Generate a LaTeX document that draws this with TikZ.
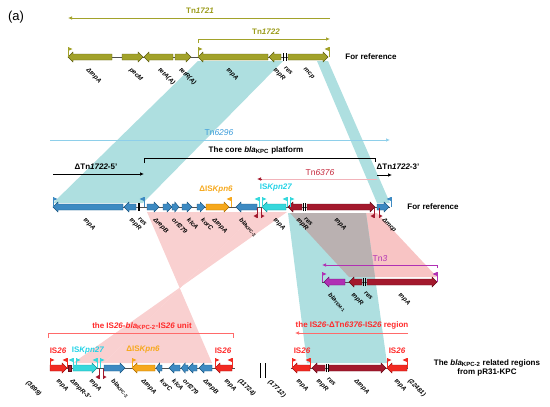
\documentclass[tikz,border=0pt]{standalone}
\usepackage{fontspec}
\setmainfont{Liberation Sans}
\usetikzlibrary{arrows.meta}
\definecolor{cOlv}{HTML}{A2A22A}
\definecolor{cOlvD}{HTML}{5C5C12}
\definecolor{cOlvT}{HTML}{9C9C1C}
\definecolor{cBlu}{HTML}{3D8AC2}
\definecolor{cBluD}{HTML}{1B557F}
\definecolor{cOra}{HTML}{F6A81C}
\definecolor{cOraD}{HTML}{A86A00}
\definecolor{cCya}{HTML}{36D8DC}
\definecolor{cCyaD}{HTML}{169496}
\definecolor{cCyaT}{HTML}{22D2E6}
\definecolor{cDrd}{HTML}{A3192D}
\definecolor{cDrdD}{HTML}{650C18}
\definecolor{cRed}{HTML}{F22A22}
\definecolor{cRedD}{HTML}{A01010}
\definecolor{cRedT}{HTML}{FF2A2A}
\definecolor{cMag}{HTML}{B030B4}
\definecolor{cMagD}{HTML}{6E1072}
\definecolor{cTsix}{HTML}{8ECFEA}
\definecolor{cTsixT}{HTML}{3C9CDA}
\definecolor{cTsev}{HTML}{F2B3BA}
\definecolor{cTsevT}{HTML}{C4263A}
\definecolor{cShC}{HTML}{AEDFE0}
\definecolor{cShP}{HTML}{F8C4C4}
\definecolor{cShG}{HTML}{BAB1B1}
\definecolor{cBack}{HTML}{505050}
\newcommand{\geneR}[4]{%
  \pgfmathsetmacro{\ghl}{min(5,0.6*(#2-#1))}%
  \filldraw[fill=c#4,draw=c#4D,line width=0.4pt] (#1,#3-3) -- ({#2-\ghl},#3-3) -- ({#2-\ghl},#3-5) -- (#2,#3) -- ({#2-\ghl},#3+5) -- ({#2-\ghl},#3+3) -- (#1,#3+3) -- cycle;}
\newcommand{\geneL}[4]{%
  \pgfmathsetmacro{\ghl}{min(5,0.6*(#2-#1))}%
  \filldraw[fill=c#4,draw=c#4D,line width=0.4pt] (#2,#3-3) -- ({#1+\ghl},#3-3) -- ({#1+\ghl},#3-5) -- (#1,#3) -- ({#1+\ghl},#3+5) -- ({#1+\ghl},#3+3) -- (#2,#3+3) -- cycle;}
\newcommand{\flagR}[3]{\draw[#3,line width=0.5pt] (#1,#2) -- (#1,#2-10); \fill[#3] (#1,#2-10) -- (#1+4.5,#2-8) -- (#1,#2-6) -- cycle;}
\newcommand{\flagL}[3]{\draw[#3,line width=0.5pt] (#1,#2) -- (#1,#2-10); \fill[#3] (#1,#2-10) -- (#1-4.5,#2-8) -- (#1,#2-6) -- cycle;}
\newcommand{\dmarkL}[2]{\draw[cDrd,line width=0.5pt] (#1,#2) -- (#1,#2+10); \fill[cDrd] (#1,#2+10) -- (#1-3.5,#2+8) -- (#1,#2+6) -- cycle;}
\newcommand{\dmarkR}[2]{\draw[cDrd,line width=0.5pt] (#1,#2) -- (#1,#2+10); \fill[cDrd] (#1,#2+10) -- (#1+3.5,#2+8) -- (#1,#2+6) -- cycle;}
\newcommand{\resbar}[2]{\draw[black,line width=0.8pt] (#1,#2-4) -- (#1,#2+4);}
\newcommand{\kpcsub}[1]{\textit{bla}\textsubscript{\textup{#1}}}
\tikzset{
  glab/.style={rotate=-45, anchor=west, inner sep=0pt, font=\fontsize{6.3}{7}\selectfont\bfseries\itshape},
  lab/.style={inner sep=0pt, font=\fontsize{8}{9.5}\selectfont\bfseries},
  spanline/.style={line width=0.7pt},
  bone/.style={cBack, line width=0.6pt},
  tip/.style={-{Latex[length=4pt,width=3.5pt]}}
}
\begin{document}
\begin{tikzpicture}[x=1pt,y=-1pt]
\useasboundingbox (0,0) rectangle (550,407);
% ---------- shaded homology regions
\fill[cShC] (198,61) -- (283,61) -- (143,203) -- (53,203) -- cycle;
\fill[cShC] (317,61) -- (328,61) -- (390,203) -- (377,203) -- cycle;
\fill[cShP, fill opacity=0.8] (147,212) -- (257,212) -- (104,363) -- (212,363) -- cycle;
\fill[cShP, fill opacity=0.8] (257,212) -- (287,212) -- (73,363) -- (104,363) -- cycle;
\fill[cShP] (290,213) -- (377,213) -- (437,277) -- (349,277) -- cycle;
\fill[cShC] (288,213) -- (366,213) -- (387,363) -- (307,363) -- cycle;
\fill[cShG] (290,213) -- (366,213) -- (375,277) -- (349,277) -- cycle;
% ---------- (a)
\node[inner sep=0pt, font=\fontsize{13}{14}\selectfont] (pa) at (16,17) {(a)};
% ---------- row 1: Tn1721
\draw[spanline, cOlv, tip] (330,18) -- (68,18);
\node[lab, text=cOlvT] (tA) at (200,11) {Tn\textit{1721}};
\draw[spanline, cOlv, tip] (198,43) -- (198,39) -- (330,39);
\node[lab, text=cOlvT] (tB) at (266,32) {Tn\textit{1722}};
\draw[bone] (68,57) -- (328,57);
\geneL{68}{112}{57}{Olv}
\geneR{122}{143}{57}{Olv}
\geneL{144}{173}{57}{Olv}
\geneR{175}{191}{57}{Olv}
\geneL{198}{268}{57}{Olv}
\geneL{269}{281}{57}{Olv}
\resbar{283}{57}\resbar{286}{57}
\geneR{288}{328}{57}{Olv}
\flagR{68}{57}{cOlv}\flagR{198}{57}{cOlv}\flagL{329}{57}{cOlv}
\node[glab] (a1) at (87,69) {ΔtnpA};
\node[glab] (a2) at (130,69) {pecM};
\node[glab] (a3) at (159,69) {tetA(A)};
\node[glab] (a4) at (180,69) {tetR(A)};
\node[glab] (a5) at (227,69) {tnpA};
\node[glab] (a6) at (274,69) {tnpR};
\node[glab] (a7) at (285,67) {res};
\node[glab] (a8) at (304,69) {mcp};
\node[lab] (fr1) at (371,57) {For reference};
% ---------- row 2 span lines
\draw[spanline, cTsix, tip] (50,140) -- (390,140);
\node[inner sep=0pt, font=\fontsize{8.5}{9.5}\selectfont, text=cTsixT] (tC) at (219,133) {Tn\textit{6296}};
\draw[spanline, black] (144,163) -- (144,158) -- (375,158) -- (375,162);
\node[lab] (core) at (256,150) {The core \kpcsub{KPC} platform};
\node[lab] (d5) at (96,167) {ΔTn\textit{1722}-5'};
\draw[spanline, black, tip] (53,174) -- (144,174);
\node[lab] (d3) at (398,167) {ΔTn\textit{1722}-3'};
\draw[spanline, black, tip] (377,175) -- (392,175);
\draw[spanline, cTsev] (260,179) -- (377,179);
\draw[spanline, cDrd, tip] (262,179) -- (257,179);
\node[inner sep=0pt, font=\fontsize{8.5}{9.5}\selectfont, text=cTsevT] (tD) at (320,173) {Tn\textit{6376}};
\node[lab, text=cOra] (k6) at (216,190) {ΔIS\textit{Kpn6}};
\node[lab, text=cCyaT] (k27) at (276,188) {IS\textit{Kpn27}};
% ---------- row 2 genes
\draw[bone] (53,207) -- (390,207);
\geneL{53}{123}{207}{Blu}
\geneL{124}{136}{207}{Blu}
\draw[black,line width=1.4pt] (139,203) -- (139,211);
\geneR{147}{159}{207}{Blu}
\geneR{163}{172}{207}{Blu}
\geneR{172}{179}{207}{Blu}
\geneR{182}{192}{207}{Blu}
\geneR{197}{205}{207}{Blu}
\geneR{206}{229}{207}{Ora}
\geneL{236}{257}{207}{Blu}
\geneL{262}{286}{207}{Cya}
\geneL{288}{302}{207}{Drd}
\resbar{303.5}{207}\resbar{305.5}{207}
\geneR{307}{375}{207}{Drd}
\geneR{377}{389}{207}{Blu}
\flagR{53}{207}{cBlu}\flagL{144}{207}{cBlu}\flagL{231}{207}{cOra}
\flagL{259}{207}{cCya}\flagR{262}{207}{cCya}
\flagL{287}{207}{cCya}\flagR{290}{207}{cCya}
\flagL{391}{207}{cBlu}
\dmarkL{257}{208}\dmarkR{261}{208}
\dmarkL{374}{208}\dmarkR{379}{208}
\node[glab] (b1) at (84,219) {tnpA};
\node[glab] (b2) at (130,219) {tnpR};
\node[glab] (b3) at (139,218) {res};
\node[glab] (b4) at (154,219) {ΔrepB};
\node[glab] (b5) at (173,219) {orf279};
\node[glab] (b6) at (188,219) {klcA};
\node[glab] (b7) at (202,219) {korC};
\node[glab] (b8) at (213,219) {ΔtnpA};
\node[glab] (b9) at (240,219) {\kpcsub{KPC-2}};
\node[glab] (b10) at (274,219) {tnpA};
\node[glab] (b11) at (297,219) {tnpR};
\node[glab] (b12) at (305,218) {res};
\node[glab] (b13) at (335,219) {tnpA};
\node[glab] (b14) at (383,219) {Δmcp};
\node[lab] (fr2) at (433,207) {For reference};
% ---------- row 3: Tn3
\draw[spanline, cMag, tip] (437,268) -- (437,265) -- (322,265);
\node[inner sep=0pt, font=\fontsize{8.5}{9.5}\selectfont, text=cMag] (tE) at (380,259) {Tn\textit{3}};
\draw[bone] (322,282) -- (437,282);
\geneL{324}{345}{282}{Mag}
\geneL{349}{362}{282}{Drd}
\resbar{363.5}{282}\resbar{365.5}{282}
\geneR{367}{437}{282}{Drd}
\flagR{322}{282}{cMag}\flagL{437}{282}{cMag}
\node[glab] (c1) at (329,294) {\kpcsub{TEM-1}};
\node[glab] (c2) at (352,294) {tnpR};
\node[glab] (c3) at (365,292) {res};
\node[glab] (c4) at (399,294) {tnpA};
% ---------- row 4 left
\node[lab, text=cRedT] (u1) at (142,326) {the IS\textit{26}-\kpcsub{KPC-2}-IS\textit{26} unit};
\draw[spanline, cRedT!70] (48,338) -- (48,333) -- (233,333) -- (233,338);
\node[lab, text=cRedT] (i1) at (58,351) {IS\textit{26}};
\node[lab, text=cCyaT] (i2) at (88,351) {IS\textit{Kpn27}};
\node[lab, text=cOra] (i3) at (143,350) {ΔIS\textit{Kpn6}};
\node[lab, text=cRedT] (i4) at (223,351) {IS\textit{26}};
\draw[bone] (50,368) -- (235,368);
\geneR{50}{67}{368}{Red}
\filldraw[fill=cDrd,draw=cDrdD,line width=0.3pt] (68,365) rectangle (71,371);
\geneR{73}{97}{368}{Cya}
\geneR{104}{125}{368}{Blu}
\geneL{132}{155}{368}{Ora}
\geneL{156}{162}{368}{Blu}
\geneL{169}{180}{368}{Blu}
\geneL{181}{188}{368}{Blu}
\geneL{188}{197}{368}{Blu}
\geneL{199}{212}{368}{Blu}
\geneL{215}{232}{368}{Red}
\flagR{50}{368}{cRed}\flagL{67}{368}{cRed}
\flagL{73}{368}{cCya}\flagR{76}{368}{cCya}
\flagL{97}{368}{cCya}\flagR{100}{368}{cCya}
\flagR{132}{368}{cOra}
\flagR{215}{368}{cRed}\flagL{232}{368}{cRed}
\dmarkL{99}{369}\dmarkR{103}{369}
\node[glab] (e0) at (27,382) {(3899)};
\node[glab] (e1) at (57,380) {tnpA};
\node[glab] (e2) at (71,380) {ΔtnpR-3'};
\node[glab] (e3) at (90,380) {tnpA};
\node[glab] (e4) at (112,380) {\kpcsub{KPC-2}};
\node[glab] (e5) at (142,380) {ΔtnpA};
\node[glab] (e6) at (161,380) {korC};
\node[glab] (e7) at (173,380) {klcA};
\node[glab] (e8) at (184,380) {orf279};
\node[glab] (e9) at (204,380) {ΔrepB};
\node[glab] (e10) at (225,380) {tnpA};
\node[glab] (e11) at (239,380) {(11724)};
\draw[black, line width=0.6pt] (260,363) -- (260,378);
\draw[black, line width=0.6pt] (265,363) -- (265,378);
% ---------- row 4 right
\node[lab, text=cRedT] (u2) at (352,325) {the IS\textit{26}-ΔTn\textit{6376}-IS\textit{26} region};
\draw[spanline, cRedT!70, tip] (408,333) -- (295,333);
\node[lab, text=cRedT] (i5) at (302,351) {IS\textit{26}};
\node[lab, text=cRedT] (i6) at (397,351) {IS\textit{26}};
\draw[bone] (291,368) -- (408,368);
\geneL{292}{310}{368}{Red}
\geneL{312}{325}{368}{Drd}
\resbar{326.5}{368}\resbar{328.5}{368}
\geneR{329}{386}{368}{Drd}
\geneL{387}{407}{368}{Red}
\flagR{292}{368}{cRed}\flagL{310}{368}{cRed}
\flagR{387}{368}{cRed}\flagL{407}{368}{cRed}
\node[glab] (f0) at (269,381) {(17712)};
\node[glab] (f1) at (297,380) {tnpA};
\node[glab] (f2) at (317,380) {tnpR};
\node[glab] (f3) at (328,378) {res};
\node[glab] (f4) at (355,380) {ΔtnpA};
\node[glab] (f5) at (395,380) {tnpA};
\node[glab] (f6) at (409,380) {(22481)};
\node[lab, align=center] (fin) at (487,368) {The \kpcsub{KPC-2} related regions\\from pR31-KPC};
\end{tikzpicture}
\end{document}
